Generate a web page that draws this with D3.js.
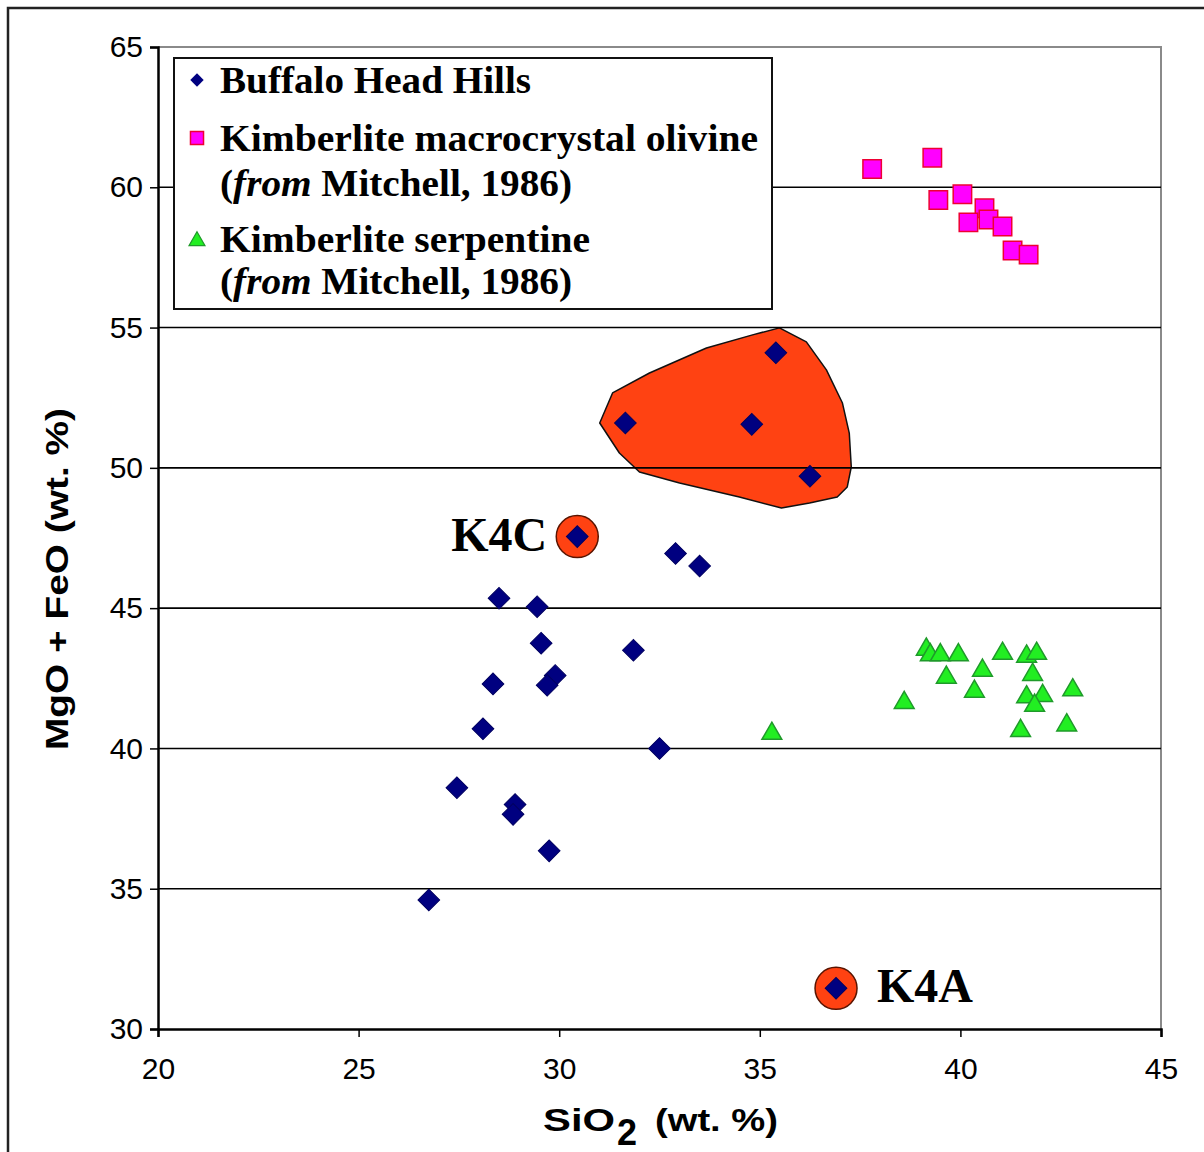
<!DOCTYPE html>
<html>
<head>
<meta charset="utf-8">
<script src="https://cdn.jsdelivr.net/npm/d3@7"></script>
<style>
  html, body { margin: 0; padding: 0; background: #fff; }
  svg { display: block; }
</style>
</head>
<body>
<div id="chart"></div>
<script>
// MgO + FeO vs SiO2 scatter, Buffalo Head Hills kimberlites

// data: [SiO2, MgO+FeO]
const buffaloHead = [
  [35.4, 54.1], [31.65, 51.6], [34.8, 51.55], [36.25, 49.7],
  [30.45, 47.55], [32.9, 46.95], [33.5, 46.5], [28.5, 45.35],
  [29.45, 45.05], [29.55, 43.75], [31.85, 43.5], [28.35, 42.3],
  [29.9, 42.6], [29.7, 42.25], [28.1, 40.7], [32.5, 40.0],
  [27.45, 38.6], [28.9, 38.0], [28.85, 37.65], [29.75, 36.35],
  [26.75, 34.6], [36.9, 31.45]
];

const olivine = [
  [37.8, 60.65], [39.3, 61.05], [39.45, 59.55], [40.05, 59.75],
  [40.6, 59.25], [40.2, 58.75], [40.7, 58.85], [41.05, 58.6],
  [41.3, 57.75], [41.7, 57.6]
];

const serpentine = [
  [39.15, 43.6], [39.25, 43.4], [39.5, 43.4], [39.95, 43.4],
  [41.05, 43.45], [41.65, 43.35], [41.9, 43.45], [39.65, 42.6],
  [40.55, 42.85], [40.35, 42.1], [41.8, 42.7], [41.65, 41.9],
  [42.05, 41.95], [41.85, 41.6], [42.8, 42.15], [38.6, 41.7],
  [41.5, 40.7], [42.65, 40.9], [35.3, 40.6]
];

// outline of the hand-drawn field around the upper BHH group
const fieldOutline = [
  [35.49, 54.99], [36.16, 54.49], [36.66, 53.49], [37.06, 52.31],
  [37.23, 51.24], [37.28, 50.03], [37.18, 49.32], [36.93, 48.96],
  [36.24, 48.75], [35.54, 48.57], [34.49, 48.96], [33.0, 49.46],
  [32.0, 49.85], [31.5, 50.53], [31.01, 51.6], [31.33, 52.67],
  [32.25, 53.38], [33.67, 54.27], [34.82, 54.74]
];

const highlighted = [
  { label: "K4C", x: 30.45, y: 47.55, side: "left" },
  { label: "K4A", x: 36.9, y: 31.45, side: "right" }
];

const xTicks = [20, 25, 30, 35, 40, 45];
const yTicks = [30, 35, 40, 45, 50, 55, 60, 65];
const gridValues = [35, 40, 45, 50, 55, 60];

const width = 1204, height = 1152;
const margin = { top: 47, right: 43, bottom: 123, left: 158 };

const sans = "'Liberation Sans', Arial, sans-serif";
const serif = "'Liberation Serif', 'Times New Roman', serif";

const orange = "#ff4212";
const navy = "#000080";

const svg = d3.select("#chart").append("svg")
    .attr("width", width)
    .attr("height", height);

// outer frame (only top + left show in the crop)
svg.append("path")
    .attr("d", `M8,${height} V8 H${width}`)
    .attr("fill", "none")
    .attr("stroke", "#222")
    .attr("stroke-width", 2.5);

const x = d3.scaleLinear().domain([20, 45]).range([margin.left, width - margin.right]);
const y = d3.scaleLinear().domain([30, 65]).range([height - margin.bottom, margin.top]);

// plot area border (grey top and right)
svg.append("path")
    .attr("d", `M${x(20)},${y(65)} H${x(45)} V${y(30)}`)
    .attr("fill", "none")
    .attr("stroke", "#8a8a8a")
    .attr("stroke-width", 2);

// the red field
svg.append("path")
    .datum(fieldOutline)
    .attr("d", d3.line().x(d => x(d[0])).y(d => y(d[1])).curve(d3.curveLinearClosed))
    .attr("fill", orange)
    .attr("stroke", "#111")
    .attr("stroke-width", 1.5)
    .attr("stroke-linejoin", "round");

// gridlines
svg.append("g")
    .selectAll("line")
    .data(gridValues)
    .enter().append("line")
    .attr("x1", x(20)).attr("x2", x(45))
    .attr("y1", d => y(d)).attr("y2", d => y(d))
    .attr("stroke", "#000")
    .attr("stroke-width", 1.6);

// axes
const yAxis = svg.append("g")
    .attr("transform", `translate(${x(20)},0)`)
    .call(d3.axisLeft(y).tickValues(yTicks).tickSize(8).tickPadding(7));

const xAxis = svg.append("g")
    .attr("transform", `translate(0,${y(30)})`)
    .call(d3.axisBottom(x).tickValues(xTicks).tickSize(8).tickPadding(21));

[yAxis, xAxis].forEach(g => {
    g.select(".domain").attr("stroke", "#000").attr("stroke-width", 2.5);
    g.selectAll(".tick line").attr("stroke", "#000").attr("stroke-width", 1.5);
    g.selectAll(".tick text")
        .style("font-family", sans)
        .style("font-size", "30px")
        .attr("fill", "#000");
});

// highlight circles behind K4C / K4A
svg.append("g")
    .selectAll("circle")
    .data(highlighted)
    .enter().append("circle")
    .attr("cx", d => x(d.x))
    .attr("cy", d => y(d.y))
    .attr("r", 21)
    .attr("fill", orange)
    .attr("stroke", "#5a1400")
    .attr("stroke-width", 1.5);

svg.append("g")
    .selectAll("text")
    .data(highlighted)
    .enter().append("text")
    .attr("x", d => d.side === "left" ? x(d.x) - 30 : x(d.x) + 41)
    .attr("y", d => y(d.y) + 14)
    .attr("text-anchor", d => d.side === "left" ? "end" : "start")
    .style("font-family", serif)
    .style("font-weight", "bold")
    .style("font-size", "48px")
    .text(d => d.label);

// markers
const diamond = d3.symbol(d3.symbolSquare, 235);
const square = d3.symbol(d3.symbolSquare, 340);
const triangle = d3.symbol(d3.symbolTriangle, 170);

svg.append("g")
    .selectAll("path")
    .data(olivine)
    .enter().append("path")
    .attr("d", square)
    .attr("transform", d => `translate(${x(d[0])},${y(d[1])})`)
    .attr("fill", "#ff00ff")
    .attr("stroke", "#ee0033")
    .attr("stroke-width", 1.5);

svg.append("g")
    .selectAll("path")
    .data(serpentine)
    .enter().append("path")
    .attr("d", triangle)
    .attr("transform", d => `translate(${x(d[0])},${y(d[1]) + 2})`)
    .attr("fill", "#22ee22")
    .attr("stroke", "#1f9a2a")
    .attr("stroke-width", 1.5);

svg.append("g")
    .selectAll("path")
    .data(buffaloHead)
    .enter().append("path")
    .attr("d", diamond)
    .attr("transform", d => `translate(${x(d[0])},${y(d[1])}) rotate(45)`)
    .attr("fill", navy)
    .attr("stroke", "#000060")
    .attr("stroke-width", 1);

// legend
const legend = svg.append("g");
legend.append("rect")
    .attr("x", 174).attr("y", 58)
    .attr("width", 598).attr("height", 251)
    .attr("fill", "#fff")
    .attr("stroke", "#111")
    .attr("stroke-width", 2);

legend.append("path")
    .attr("d", d3.symbol(d3.symbolSquare, 90))
    .attr("transform", "translate(197,80) rotate(45)")
    .attr("fill", navy);
legend.append("path")
    .attr("d", d3.symbol(d3.symbolSquare, 170))
    .attr("transform", "translate(197,138)")
    .attr("fill", "#ff00ff")
    .attr("stroke", "#ee0033")
    .attr("stroke-width", 1.5);
legend.append("path")
    .attr("d", d3.symbol(d3.symbolTriangle, 110))
    .attr("transform", "translate(197,241)")
    .attr("fill", "#22ee22")
    .attr("stroke", "#1f9a2a")
    .attr("stroke-width", 1.2);

const legendText = (yPos, len, parts) => {
    const t = legend.append("text")
        .attr("x", 220).attr("y", yPos)
        .attr("textLength", len)
        .attr("lengthAdjust", "spacingAndGlyphs")
        .style("font-family", serif)
        .style("font-weight", "bold")
        .style("font-size", "37px");
    parts.forEach(p => {
        t.append("tspan")
            .style("font-style", p.italic ? "italic" : "normal")
            .text(p.text);
    });
};

legendText(93, 311, [{ text: "Buffalo Head Hills" }]);
legendText(151, 538, [{ text: "Kimberlite macrocrystal olivine" }]);
legendText(196, 352, [{ text: "(" }, { text: "from", italic: true }, { text: " Mitchell, 1986)" }]);
legendText(252, 370, [{ text: "Kimberlite serpentine" }]);
legendText(294, 352, [{ text: "(" }, { text: "from", italic: true }, { text: " Mitchell, 1986)" }]);

// axis titles
svg.append("text")
    .attr("transform", "translate(68,579) rotate(-90)")
    .attr("text-anchor", "middle")
    .attr("textLength", 342)
    .attr("lengthAdjust", "spacingAndGlyphs")
    .style("font-family", sans)
    .style("font-weight", "bold")
    .style("font-size", "32px")
    .text("MgO + FeO (wt. %)");

const xTitle = svg.append("g")
    .style("font-family", sans)
    .style("font-weight", "bold");
xTitle.append("text")
    .attr("x", 543).attr("y", 1131)
    .attr("textLength", 72)
    .attr("lengthAdjust", "spacingAndGlyphs")
    .style("font-size", "32px")
    .text("SiO");
xTitle.append("text")
    .attr("x", 617).attr("y", 1145)
    .style("font-size", "36px")
    .text("2");
xTitle.append("text")
    .attr("x", 655).attr("y", 1131)
    .attr("textLength", 123)
    .attr("lengthAdjust", "spacingAndGlyphs")
    .style("font-size", "32px")
    .text("(wt. %)");
</script>
</body>
</html>
